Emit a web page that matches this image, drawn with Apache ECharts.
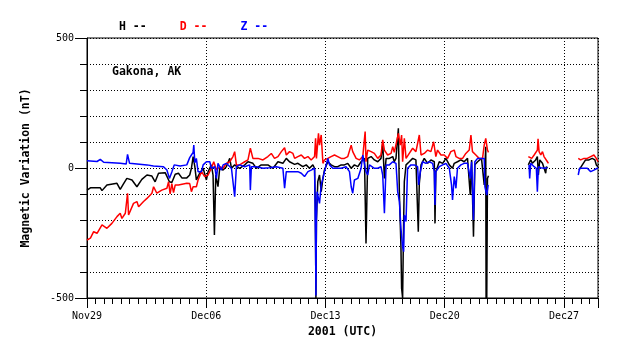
<!DOCTYPE html>
<html><head><meta charset="utf-8">
<script src="https://cdn.jsdelivr.net/npm/echarts@6/dist/echarts.min.js"></script>
<style>html,body{margin:0;padding:0;background:#fff}#c{width:638px;height:359px}</style>
</head><body><div id="c"></div>
<script>
// x = days since 2001-11-29 00:00 UTC, y = nT
const tickLabels = ['Nov29', 'Dec06', 'Dec13', 'Dec20', 'Dec27'];
const seriesNames = ['H', 'D', 'Z'];
const stationName = 'Gakona, AK';

const hData = [
  [0,-85],[0.1,-85],[0.2,-76],[0.78,-76],[0.88,-87],[1.17,-65],[1.76,-59],[1.95,-82],[2.15,-60],[2.34,-40],
  [2.64,-46],[2.93,-72],[3.22,-44],[3.52,-27],[3.81,-31],[4.0,-53],[4.2,-20],[4.59,-18],[4.84,-53],[4.98,-56],
  [5.18,-24],[5.37,-20],[5.57,-38],[5.86,-38],[6.03,-27],[6.13,-1],[6.23,44],[6.33,5],[6.42,-46],[6.62,-20],
  [6.82,-1],[7.01,-46],[7.11,-14],[7.3,12],[7.4,-27],[7.48,-258],[7.56,-27],[7.69,-72],[7.79,-1],[7.99,-8],
  [8.18,5],[8.38,37],[8.48,-1],[8.67,12],[8.96,-1],[9.26,12],[9.45,24],[9.74,18],[9.94,-1],[10.23,12],
  [10.62,12],[10.92,-1],[11.21,24],[11.5,18],[11.7,37],[11.89,24],[12.19,14],[12.38,18],[12.67,5],[12.87,12],
  [13.06,-1],[13.26,12],[13.36,-1],[13.4,-136],[13.42,-300],[13.44,-500],[13.47,-200],[13.55,-52],[13.65,-27],[13.75,-91],
  [13.85,-40],[13.94,-8],[14.14,24],[14.33,12],[14.53,5],[14.72,5],[14.92,12],[15.11,12],[15.31,18],[15.51,-1],
  [15.7,12],[15.9,5],[16.09,24],[16.29,37],[16.38,-290],[16.48,37],[16.68,44],[16.87,31],[17.07,24],[17.26,37],
  [17.36,95],[17.46,-40],[17.56,37],[17.75,37],[17.95,44],[18.04,24],[18.14,37],[18.28,153],[18.34,-100],[18.43,-300],
  [18.47,-463],[18.53,-500],[18.59,-200],[18.63,-52],[18.73,12],[18.92,24],[19.12,37],[19.31,31],[19.45,-245],[19.51,-59],
  [19.61,12],[19.8,37],[20.0,18],[20.19,31],[20.39,24],[20.43,-213],[20.48,-14],[20.68,24],[20.88,18],[21.07,37],
  [21.27,12],[21.46,-1],[21.56,18],[21.75,24],[21.95,31],[22.14,24],[22.34,37],[22.5,-104],[22.58,31],[22.69,-264],
  [22.77,12],[22.93,24],[23.16,37],[23.32,-65],[23.41,82],[23.43,-500],[23.45,-200],[23.47,-500],[23.51,-40],[23.57,-30],
  [24.5,null],
  [25.91,12],[26.05,31],[26.15,18],[26.34,31],[26.44,44],[26.5,-27],[26.58,31],[26.74,18],[26.83,24],[26.93,-20],
  [26.97,5],[27.03,-1],
  [28.0,null],
  [28.88,-8],[29.08,12],[29.27,31],[29.47,31],[29.66,37],[29.82,31],[29.9,12],[30.0,5]
];

const dData = [
  [0,-277],[0.2,-270],[0.39,-245],[0.59,-251],[0.88,-219],[1.17,-232],[1.46,-213],[1.76,-187],[1.95,-174],[2.05,-194],
  [2.25,-174],[2.38,-97],[2.44,-181],[2.73,-136],[2.93,-129],[3.03,-149],[3.32,-129],[3.52,-117],[3.81,-97],[3.91,-72],
  [4.1,-97],[4.39,-85],[4.69,-78],[4.79,-53],[4.88,-100],[4.98,-60],[5.08,-95],[5.18,-65],[5.37,-65],[5.86,-59],
  [6.03,-60],[6.13,-91],[6.23,-72],[6.42,-72],[6.52,-46],[6.72,-14],[6.91,-33],[7.11,-27],[7.3,-1],[7.44,24],
  [7.6,-8],[7.79,5],[7.99,-1],[8.18,18],[8.38,24],[8.57,44],[8.67,63],[8.77,12],[8.96,12],[9.26,24],
  [9.45,31],[9.59,76],[9.74,37],[10.04,37],[10.33,31],[10.62,44],[10.82,56],[11.01,37],[11.21,44],[11.41,63],
  [11.6,78],[11.7,50],[11.89,63],[12.09,56],[12.19,37],[12.38,44],[12.58,50],[12.77,37],[12.97,44],[13.16,31],
  [13.36,44],[13.42,114],[13.47,37],[13.59,133],[13.65,88],[13.75,127],[13.85,18],[13.94,31],[14.14,37],[14.33,44],
  [14.53,50],[14.72,44],[14.92,37],[15.11,37],[15.31,44],[15.51,88],[15.6,63],[15.8,37],[15.99,31],[16.19,44],
  [16.33,140],[16.38,24],[16.48,69],[16.68,63],[16.87,56],[17.07,37],[17.26,50],[17.36,108],[17.46,69],[17.65,50],
  [17.85,56],[17.95,82],[18.04,60],[18.14,63],[18.28,133],[18.39,88],[18.47,127],[18.53,24],[18.63,114],[18.73,37],
  [18.92,56],[19.12,76],[19.31,63],[19.51,127],[19.61,50],[19.8,56],[20.0,69],[20.19,63],[20.35,101],[20.48,44],
  [20.58,69],[20.78,50],[20.97,50],[21.17,37],[21.36,63],[21.56,69],[21.66,44],[21.85,37],[22.05,37],[22.24,56],
  [22.44,69],[22.54,127],[22.63,63],[22.83,50],[23.02,37],[23.22,37],[23.32,88],[23.41,114],[23.51,69],[23.57,60],
  [24.5,null],
  [25.91,44],[25.99,50],[26.11,37],[26.25,50],[26.34,56],[26.44,69],[26.48,112],[26.54,63],[26.64,50],[26.74,63],
  [26.83,44],[26.93,37],[27.03,24],[27.09,18],
  [28.0,null],
  [28.84,37],[28.98,31],[29.18,37],[29.37,37],[29.57,44],[29.76,50],[29.9,37],[30.0,24]
];

const zData = [
  [0,28],[0.59,25],[0.78,33],[0.98,22],[1.95,18],[2.3,15],[2.38,52],[2.5,18],[3.52,12],[3.9,8],
  [4.49,5],[4.69,-8],[4.84,-40],[4.98,-15],[5.12,12],[5.47,8],[5.86,12],[6.03,40],[6.13,50],[6.23,60],
  [6.27,88],[6.33,20],[6.42,37],[6.52,-14],[6.72,-14],[6.82,12],[7.01,24],[7.21,24],[7.3,-1],[7.5,5],
  [7.6,-40],[7.69,18],[7.89,-8],[7.99,12],[8.18,18],[8.28,24],[8.48,-1],[8.67,-110],[8.77,5],[8.96,12],
  [9.26,5],[9.55,12],[9.59,-85],[9.65,5],[9.94,5],[10.33,-1],[10.72,1],[11.11,5],[11.5,-1],[11.6,-78],
  [11.7,-14],[12.09,-14],[12.38,-14],[12.58,-20],[12.77,-33],[12.97,-14],[13.16,-8],[13.36,-1],[13.42,-300],[13.44,-490],
  [13.47,-200],[13.51,-91],[13.65,-136],[13.75,-65],[13.85,-40],[13.94,-14],[14.14,37],[14.24,12],[14.43,-1],[14.63,-1],
  [14.92,-1],[15.21,5],[15.41,-14],[15.51,-72],[15.6,-97],[15.7,-46],[15.9,-40],[16.09,-1],[16.19,50],[16.38,-14],
  [16.48,-27],[16.58,12],[16.87,-1],[17.07,-1],[17.26,5],[17.36,-27],[17.46,-174],[17.56,12],[17.75,12],[17.95,24],
  [18.04,24],[18.14,18],[18.24,-91],[18.34,-129],[18.43,-232],[18.53,-303],[18.59,-322],[18.63,-181],[18.73,-206],[18.82,-1],
  [19.02,12],[19.21,12],[19.41,5],[19.47,-65],[19.57,-14],[19.7,24],[19.9,18],[20.09,24],[20.29,18],[20.39,-14],
  [20.43,-142],[20.48,-14],[20.68,5],[20.88,12],[21.07,18],[21.27,-1],[21.4,-65],[21.46,-123],[21.56,-33],[21.66,-78],
  [21.75,-1],[21.95,12],[22.14,18],[22.34,18],[22.5,-40],[22.58,24],[22.69,-200],[22.77,24],[22.93,37],[23.12,37],
  [23.32,37],[23.36,-72],[23.47,-104],[23.55,-65],
  [24.5,null],
  [25.95,12],[25.99,-40],[26.05,18],[26.25,5],[26.38,-1],[26.44,-91],[26.5,5],[26.64,1],[26.83,-1],[27.03,1],
  [28.0,null],
  [28.84,-27],[28.92,-1],[29.18,-1],[29.37,-1],[29.57,-14],[29.76,-8],[29.96,-1],[30.0,0]
];

const colors = ['#000000', '#ff0000', '#0000ff'];
const FONT = '"DejaVu Sans Mono", monospace';

const chart = echarts.init(document.getElementById('c'), null, { renderer: 'canvas' });
const allData = [hData, dData, zData];

chart.setOption({
  animation: false,
  backgroundColor: '#ffffff',
  grid: { left: 87, right: 40, top: 38, bottom: 61, show: true, borderColor: '#000', borderWidth: 1, backgroundColor: 'transparent' },
  legend: {
    left: 109, top: 16, icon: 'none', itemWidth: 0, itemHeight: 10, itemGap: 28,
    formatter: n => n + ' --',
    textStyle: { fontFamily: FONT, fontWeight: 'bold', fontSize: 11.5 },
    data: seriesNames.map((n, i) => ({ name: n, textStyle: { color: colors[i] } }))
  },
  graphic: [{
    type: 'text', left: 112, top: 66,
    style: { text: stationName, font: 'bold 11.5px ' + FONT, fill: '#000' }
  }],
  xAxis: [
    { type: 'value', min: 0, max: 30, interval: 0.5, position: 'bottom',
      axisLine: { show: true, onZero: false, lineStyle: { color: '#000', width: 1 } },
      axisTick: { show: true, length: 6, lineStyle: { color: '#000' } },
      axisLabel: { show: false }, splitLine: { show: false } },
    { type: 'value', min: 0, max: 30, interval: 7, position: 'bottom',
      axisLine: { show: false, onZero: false },
      axisTick: { show: true, length: 10, lineStyle: { color: '#000' } },
      axisLabel: { show: true, margin: 13, color: '#000', fontFamily: FONT, fontSize: 10,
        formatter: v => (v % 7 === 0 ? (tickLabels[v / 7] || '') : '') },
      splitLine: { show: true, lineStyle: { type: [1, 2], color: '#000', width: 1 } },
      name: '2001 (UTC)', nameLocation: 'middle', nameGap: 26,
      nameTextStyle: { fontFamily: FONT, fontWeight: 'bold', fontSize: 11.5, color: '#000' } }
  ],
  yAxis: [
    { type: 'value', min: -500, max: 500, interval: 100, position: 'left',
      axisLine: { show: true, onZero: false, lineStyle: { color: '#000', width: 1 } },
      axisTick: { show: true, length: 7, lineStyle: { color: '#000' } },
      axisLabel: { show: false },
      splitLine: { show: true, lineStyle: { type: [1, 2], color: '#000', width: 1 } },
      name: 'Magnetic Variation (nT)', nameLocation: 'middle', nameGap: 55, nameRotate: 90,
      nameTextStyle: { fontFamily: FONT, fontWeight: 'bold', fontSize: 11.5, color: '#000' } },
    { type: 'value', min: -500, max: 500, interval: 500, position: 'left',
      axisLine: { show: false, onZero: false },
      axisTick: { show: true, length: 12, lineStyle: { color: '#000' } },
      axisLabel: { show: true, margin: 13, color: '#000', fontFamily: FONT, fontSize: 10 },
      splitLine: { show: false } }
  ],
  series: allData.map((d, i) => ({
    name: seriesNames[i], type: 'line', data: d, xAxisIndex: 0, yAxisIndex: 0,
    showSymbol: false, symbol: 'none', connectNulls: false, clip: true,
    lineStyle: { color: colors[i], width: 1.5 }, itemStyle: { color: colors[i] }
  }))
});
</script></body></html>
